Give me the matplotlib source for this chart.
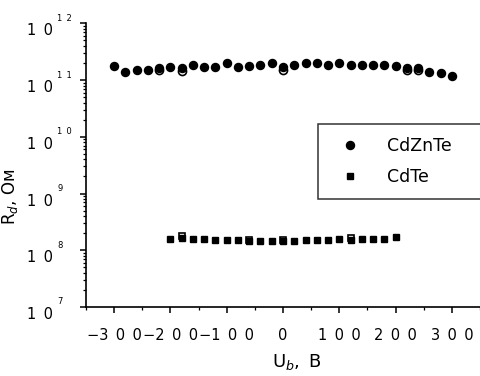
import math
import matplotlib
matplotlib.use("Agg")
import matplotlib.pyplot as plt
import matplotlib.transforms as mtransforms
from matplotlib.ticker import FixedLocator, FuncFormatter, LogLocator, NullFormatter, MultipleLocator
from matplotlib.lines import Line2D

plt.rcParams['font.family'] = ['DejaVu Sans']
plt.rcParams['mathtext.fontset'] = 'dejavusans'

# Bias voltage, V
v_cdznte = [-300, -280, -260, -240, -220, -200, -180, -160, -140, -120, -100,
            -80, -60, -40, -20, 0, 20, 40, 60, 80, 100, 120, 140, 160, 180,
            200, 220, 240, 260, 280, 300]
# Differential resistance, Ohm
r_cdznte = [1.77e11, 1.38e11, 1.50e11, 1.50e11, 1.66e11, 1.67e11, 1.61e11,
            1.84e11, 1.72e11, 1.72e11, 2.02e11, 1.72e11, 1.77e11, 1.82e11,
            2.02e11, 1.70e11, 1.84e11, 2.02e11, 1.97e11, 1.84e11, 2.02e11,
            1.84e11, 1.84e11, 1.84e11, 1.84e11, 1.77e11, 1.66e11, 1.66e11,
            1.40e11, 1.31e11, 1.18e11]
# Reverse sweep points that differ from the forward sweep
v_cdznte_rev = [-220, -180, 0, 220, 240]
r_cdznte_rev = [1.50e11, 1.45e11, 1.53e11, 1.50e11, 1.50e11]

v_cdte = [-200, -180, -160, -140, -120, -100, -80, -60, -40, -20, 0,
          20, 40, 60, 80, 100, 120, 140, 160, 180, 200]
r_cdte = [1.61e8, 1.62e8, 1.61e8, 1.57e8, 1.51e8, 1.51e8, 1.51e8, 1.45e8,
          1.45e8, 1.45e8, 1.43e8, 1.45e8, 1.51e8, 1.51e8, 1.51e8, 1.55e8,
          1.52e8, 1.57e8, 1.57e8, 1.57e8, 1.68e8]
v_cdte_rev = [-180, -60, 0, 120]
r_cdte_rev = [1.76e8, 1.53e8, 1.53e8, 1.63e8]

x_ticks = [-300, -200, -100, 0, 100, 200, 300]
y_ticks = [1e7, 1e8, 1e9, 1e10, 1e11, 1e12]

fig = plt.figure(figsize=(4.81, 3.76), dpi=100)
ax = fig.add_axes([86 / 481, 1 - 307 / 376, 394 / 481, 283.7 / 376])

# reverse-sweep (open) markers sit underneath the forward-sweep (filled) ones
ax.plot(v_cdznte_rev, r_cdznte_rev, linestyle='none', marker='o', ms=5.8,
        mfc='white', mec='black', mew=1.2, zorder=2)
ax.plot(v_cdznte, r_cdznte, linestyle='none', marker='o', ms=5.8,
        mfc='black', mec='black', zorder=3)
ax.plot(v_cdte_rev, r_cdte_rev, linestyle='none', marker='s', ms=5.0,
        mfc='white', mec='black', mew=1.2, zorder=2)
ax.plot(v_cdte, r_cdte, linestyle='none', marker='s', ms=5.0,
        mfc='black', mec='black', zorder=3)

ax.set_yscale('log')
ax.set_xlim(-350, 350)
ax.set_ylim(1e7, 1e12)

for s in ('top', 'right'):
    ax.spines[s].set_visible(False)
for s in ('left', 'bottom'):
    ax.spines[s].set_linewidth(1.2)

ax.xaxis.set_major_locator(FixedLocator(x_ticks))
ax.xaxis.set_minor_locator(MultipleLocator(50))


def fmt_x(v, pos):
    s = '\u2002'.join(str(abs(int(v))))
    return ('\u2212' + s) if v < 0 else s


ax.xaxis.set_major_formatter(FuncFormatter(fmt_x))

ax.yaxis.set_major_locator(FixedLocator(y_ticks))
ax.yaxis.set_minor_locator(LogLocator(base=10, subs=range(2, 10), numticks=20))
ax.yaxis.set_minor_formatter(NullFormatter())
ax.yaxis.set_major_formatter(FuncFormatter(lambda v, pos: '1\u20020'))

ax.tick_params(axis='both', which='major', direction='out', length=4,
               width=1.1, labelsize=10.5, color='black')
ax.tick_params(axis='both', which='minor', direction='out', length=2.5,
               width=0.9, color='black')
ax.tick_params(axis='x', which='major', pad=11)
ax.tick_params(axis='y', which='major', pad=20)

# shift the mantissa "1 0" down so the exponent sits above it
down = mtransforms.ScaledTranslation(0, -6 / 100, fig.dpi_scale_trans)
for lbl in ax.get_yticklabels():
    lbl.set_transform(lbl.get_transform() + down)

# small spaced exponents next to each "1 0"
exp_trans = mtransforms.blended_transform_factory(ax.transAxes, ax.transData) + \
    mtransforms.ScaledTranslation(0, 5 / 100, fig.dpi_scale_trans)
for t in y_ticks:
    e = int(round(math.log10(t)))
    ax.text((57 - 86) / 394, t, '\u2002'.join(str(e)), transform=exp_trans,
            fontsize=6, ha='left', va='center', clip_on=False)

ax.set_ylabel(r'R$_d$, Ом', fontsize=12)
ax.yaxis.set_label_coords(-66 / 394, 0.39)
ax.set_xlabel('U$_b$,\u2002B', fontsize=13)
ax.xaxis.set_label_coords((297 - 86) / 394, -45 / 283.7)

handles = [
    Line2D([], [], linestyle='none', marker='o', ms=5.8, mfc='black', mec='black'),
    Line2D([], [], linestyle='none', marker='s', ms=5.0, mfc='black', mec='black'),
]
leg = fig.legend(handles, ['CdZnTe', 'CdTe'], loc='upper left',
                 bbox_to_anchor=(318 / 481, 0, 240 / 481, 1 - 124 / 376),
                 mode='expand', fontsize=12.5, frameon=True, fancybox=False,
                 borderpad=0.75, handlelength=2.2, handletextpad=1.0,
                 labelspacing=0.75, borderaxespad=0, numpoints=1)
leg.get_frame().set_edgecolor('black')
leg.get_frame().set_linewidth(1.1)

fig.savefig('out.png', dpi=100)
